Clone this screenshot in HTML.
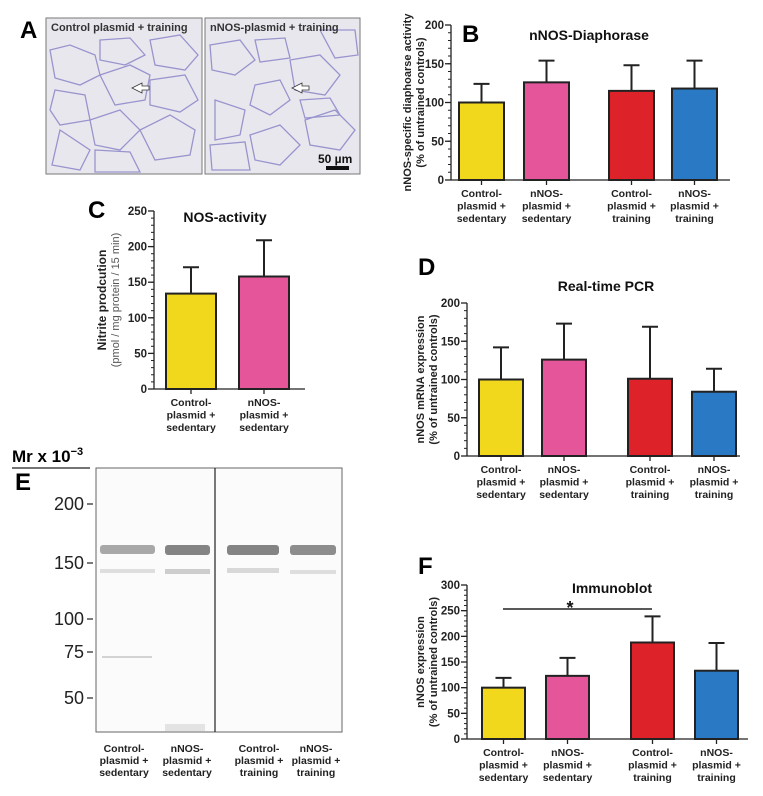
<!DOCTYPE html>
<html><head><meta charset="utf-8">
<style>
body{margin:0;background:#fff;}
svg{display:block;font-family:"Liberation Sans",Arial,sans-serif;}
</style></head>
<body>
<svg id="fig" width="763" height="796" viewBox="0 0 763 796">
<!-- Panel A -->
<g>
<text x="20" y="38" font-size="24" font-weight="bold">A</text>
<rect x="46" y="18" width="156" height="156" fill="#e9e7ee" stroke="#777" stroke-width="1"/>
<rect x="205" y="18" width="155" height="156" fill="#e9e7ee" stroke="#777" stroke-width="1"/>
<g fill="none" stroke="#8a86c8" stroke-width="1.3" opacity="0.85">
<path d="M50 50 L70 45 L95 55 L100 75 L80 85 L55 78 Z"/>
<path d="M100 75 L130 65 L150 75 L145 100 L115 105 Z"/>
<path d="M150 40 L180 35 L198 55 L185 70 L155 65 Z"/>
<path d="M55 90 L85 95 L90 120 L60 125 L50 110 Z"/>
<path d="M90 120 L120 110 L140 130 L120 150 L95 145 Z"/>
<path d="M140 130 L170 115 L195 130 L190 155 L155 160 Z"/>
<path d="M60 130 L90 150 L80 170 L52 165 Z"/>
<path d="M100 40 L130 38 L145 55 L125 65 L100 60 Z"/>
<path d="M150 80 L185 75 L198 100 L180 112 L150 105 Z"/>
<path d="M95 150 L130 152 L140 172 L95 172 Z"/>
<path d="M210 45 L240 40 L255 60 L235 75 L212 70 Z"/>
<path d="M255 85 L280 80 L290 100 L270 115 L250 105 Z"/>
<path d="M290 60 L320 55 L340 75 L325 95 L295 90 Z"/>
<path d="M215 100 L245 110 L240 135 L215 140 Z"/>
<path d="M250 135 L280 125 L300 145 L280 165 L255 160 Z"/>
<path d="M305 120 L335 110 L355 130 L340 150 L310 145 Z"/>
<path d="M320 30 L355 30 L358 55 L335 58 Z"/>
<path d="M255 40 L285 38 L290 58 L260 62 Z"/>
<path d="M210 145 L245 142 L250 170 L212 170 Z"/>
<path d="M300 100 L330 98 L340 115 L305 118 Z"/>
</g>
<text x="51" y="31" font-size="11" font-weight="bold" fill="#333">Control plasmid + training</text>
<text x="210" y="31" font-size="11" font-weight="bold" fill="#333">nNOS-plasmid + training</text>
<path d="M132 88 l10 -5 l0 3 l7 0 l0 4 l-7 0 l0 3 z" fill="#fff" stroke="#333" stroke-width="0.8"/>
<path d="M292 88 l10 -5 l0 3 l7 0 l0 4 l-7 0 l0 3 z" fill="#fff" stroke="#333" stroke-width="0.8"/>
<text x="318" y="163" font-size="12" font-weight="bold" fill="#111">50 µm</text>
<rect x="326" y="166" width="23" height="4" fill="#111"/>
</g>
<!-- Panel E -->
<g>
<text x="12" y="462" font-size="17" font-weight="bold">Mr x 10<tspan font-size="11" dy="-7">−3</tspan></text>
<line x1="12" y1="468" x2="90" y2="468" stroke="#222" stroke-width="1.2"/>
<text x="15" y="490" font-size="24" font-weight="bold">E</text>
<rect x="96" y="468" width="246" height="264" fill="#fbfbfb" stroke="#666" stroke-width="1"/>
<line x1="215" y1="468" x2="215" y2="732" stroke="#222" stroke-width="1.2"/>
<g>
<rect x="100" y="545" width="55" height="9" fill="#555" opacity="0.5" rx="3"/>
<rect x="165" y="545" width="45" height="10" fill="#444" opacity="0.65" rx="3"/>
<rect x="227" y="545" width="52" height="10" fill="#444" opacity="0.65" rx="3"/>
<rect x="290" y="545" width="46" height="10" fill="#444" opacity="0.6" rx="3"/>
<rect x="100" y="569" width="55" height="4" fill="#888" opacity="0.25"/>
<rect x="165" y="569" width="45" height="5" fill="#777" opacity="0.35"/>
<rect x="227" y="568" width="52" height="5" fill="#888" opacity="0.3"/>
<rect x="290" y="570" width="46" height="4" fill="#888" opacity="0.25"/>
<rect x="102" y="656" width="50" height="2" fill="#999" opacity="0.4"/>
<rect x="165" y="724" width="40" height="7" fill="#ccc" opacity="0.5"/>
</g>
<g font-size="18" fill="#222" text-anchor="end">
<text x="84" y="510">200</text><text x="84" y="569">150</text><text x="84" y="625">100</text><text x="84" y="658">75</text><text x="84" y="704">50</text>
</g>
<g stroke="#222" stroke-width="1.2">
<line x1="87" y1="504" x2="93" y2="504"/><line x1="87" y1="563" x2="93" y2="563"/><line x1="87" y1="619" x2="93" y2="619"/><line x1="87" y1="652" x2="93" y2="652"/><line x1="87" y1="698" x2="93" y2="698"/>
</g>
<g font-size="10.5" font-weight="bold" fill="#222" text-anchor="middle">
<text x="124" y="752">Control-</text><text x="124" y="764">plasmid +</text><text x="124" y="776">sedentary</text>
<text x="187" y="752">nNOS-</text><text x="187" y="764">plasmid +</text><text x="187" y="776">sedentary</text>
<text x="259" y="752">Control-</text><text x="259" y="764">plasmid +</text><text x="259" y="776">training</text>
<text x="316" y="752">nNOS-</text><text x="316" y="764">plasmid +</text><text x="316" y="776">training</text>
</g>
</g>
<g id="charts"></g>
</svg>
<script>
// Panel B: nNOS-Diaphorase
const bValues = [100, 126, 115, 118];
const bErrors = [124, 154, 148, 154];
// Panel C: NOS-activity
const cValues = [134, 158];
const cErrors = [171, 209];
const cTicks = [0, 50, 100, 150, 200, 250];
// Panel D: Real-time PCR
const dValues = [100, 126, 101, 84];
const dErrors = [142, 173, 169, 114];
// Panel F: Immunoblot
const fValues = [100, 123, 188, 133];
const fErrors = [119, 158, 239, 187];
const fTicks = [0, 50, 100, 150, 200, 250, 300];
const fourTicks = [0, 50, 100, 150, 200];
const catsSed = [["Control-","plasmid +","sedentary"],["nNOS-","plasmid +","sedentary"]];
const catsAll = [["Control-","plasmid +","sedentary"],["nNOS-","plasmid +","sedentary"],["Control-","plasmid +","training"],["nNOS-","plasmid +","training"]];
const colors = ["#f2d81c","#e5559a","#dd2229","#2a79c4"];

const NS = "http://www.w3.org/2000/svg";
const root = document.getElementById("charts");
function mk(tag, attrs, parent){
  const e = document.createElementNS(NS, tag);
  for (const k in attrs) e.setAttribute(k, attrs[k]);
  (parent||root).appendChild(e);
  return e;
}
function chart(cfg){
  const g = mk("g", {});
  
  
  const y = v => cfg.y0 - (v / cfg.max) * (cfg.y0 - cfg.yTop);
  const ya = mk("line", {x1:cfg.ax, y1:cfg.yTop, x2:cfg.ax, y2:cfg.y0, stroke:"#222","stroke-width":1.3}, g);
  
  
  const xa = mk("line", {x1:cfg.ax, y1:cfg.y0, x2:cfg.axEnd, y2:cfg.y0, stroke:"#222","stroke-width":1.3}, g);
  
  
  for (let v = 0; v <= cfg.max; v += cfg.minor){
    mk("line", {x1:cfg.ax-3, y1:y(v), x2:cfg.ax, y2:y(v), stroke:"#222","stroke-width":1}, g);
  }
  cfg.ticks.forEach(t => {
    mk("line", {x1:cfg.ax-6, y1:y(t), x2:cfg.ax, y2:y(t), stroke:"#222","stroke-width":1.3}, g);
    const tx = mk("text", {x:cfg.ax-7, y:y(t)+4, "font-size":11.5, "font-weight":"bold", "text-anchor":"end", fill:"#222"}, g);
    tx.textContent = t;
    
    
  });
  cfg.values.forEach((v, i) => {
    const x0 = cfg.barX[i], w = cfg.barW, cx = x0 + w/2;
    const eb = mk("path", {d:`M${cx} ${y(v)} V${y(cfg.errors[i])} M${cx-8} ${y(cfg.errors[i])} H${cx+8}`, stroke:"#222","stroke-width":2, fill:"none"}, g);
    
    
    const r = mk("rect", {x:x0, y:y(v), width:w, height:cfg.y0 - y(v), fill:colors[i], stroke:"#222","stroke-width":2}, g);
    
    
    mk("line", {x1:cx, y1:cfg.y0, x2:cx, y2:cfg.y0+5, stroke:"#222","stroke-width":1.3}, g);
    cfg.cats[i].forEach((line, j) => {
      const t = mk("text", {x:cx, y:cfg.y0+17+j*12.5, "font-size":10.5, "font-weight":"bold", "text-anchor":"middle", fill:"#222"}, g);
      t.textContent = line;
      
      
    });
  });
  const ti = mk("text", {x:cfg.titleX, y:cfg.titleY, "font-size":14, "font-weight":"bold", "text-anchor":"middle", fill:"#111"}, g);
  ti.textContent = cfg.title;
  
  
  const my = (cfg.y0 + cfg.yTop)/2;
  cfg.yTitle.forEach((line, j) => {
    const t = mk("text", {x:0, y:0, transform:`translate(${cfg.yTitleX + j*13},${my}) rotate(-90)`, "font-size":line.size||11, "font-weight":line.w||"bold", "text-anchor":"middle", fill:line.fill||"#222"}, g);
    t.textContent = line.t;
    
    
  });
  const L = mk("text", {x:cfg.letterX, y:cfg.letterY, "font-size":24, "font-weight":"bold", fill:"#000"}, g);
  L.textContent = cfg.letter;
  
  
  return {g, y};
}
chart({name:"panel-b-chart", ax:451, axEnd:730, y0:180, yTop:25, max:200, minor:10, ticks:fourTicks,
  values:bValues, errors:bErrors, barX:[459,524,609,672], barW:45, cats:catsAll,
  title:"nNOS-Diaphorase", titleX:589, titleY:40, letter:"B", letterX:462, letterY:42,
  yTitle:[{t:"nNOS-specific diaphoarse activity"},{t:"(% of untrained controls)"}], yTitleX:411});
chart({name:"panel-c-chart", ax:154, axEnd:305, y0:389, yTop:211, max:250, minor:10, ticks:cTicks,
  values:cValues, errors:cErrors, barX:[166,239], barW:50, cats:catsSed,
  title:"NOS-activity", titleX:225, titleY:222, letter:"C", letterX:88, letterY:218,
  yTitle:[{t:"Nitrite prodcution", size:12},{t:"(pmol / mg protein / 15 min)", w:"normal", fill:"#555", size:11}], yTitleX:106});
chart({name:"panel-d-chart", ax:467, axEnd:740, y0:456, yTop:303, max:200, minor:10, ticks:fourTicks,
  values:dValues, errors:dErrors, barX:[479,542,628,692], barW:44, cats:catsAll,
  title:"Real-time PCR", titleX:606, titleY:291, letter:"D", letterX:418, letterY:275,
  yTitle:[{t:"nNOS mRNA expression"},{t:"(% of untrained controls)"}], yTitleX:424});
const f = chart({name:"panel-f-chart", ax:467, axEnd:748, y0:739, yTop:585, max:300, minor:10, ticks:fTicks,
  values:fValues, errors:fErrors, barX:[482,546,631,695], barW:43, cats:catsAll,
  title:"Immunoblot", titleX:612, titleY:593, letter:"F", letterX:418, letterY:574,
  yTitle:[{t:"nNOS expression"},{t:"(% of untrained controls)"}], yTitleX:424});
const sig = mk("line", {x1:503, y1:609, x2:652, y2:609, stroke:"#222","stroke-width":1.5}, f.g);


const star = mk("text", {x:570, y:614, "font-size":18, "font-weight":"bold", "text-anchor":"middle", fill:"#111"}, f.g);
star.textContent = "*";


</script>
</body></html>
